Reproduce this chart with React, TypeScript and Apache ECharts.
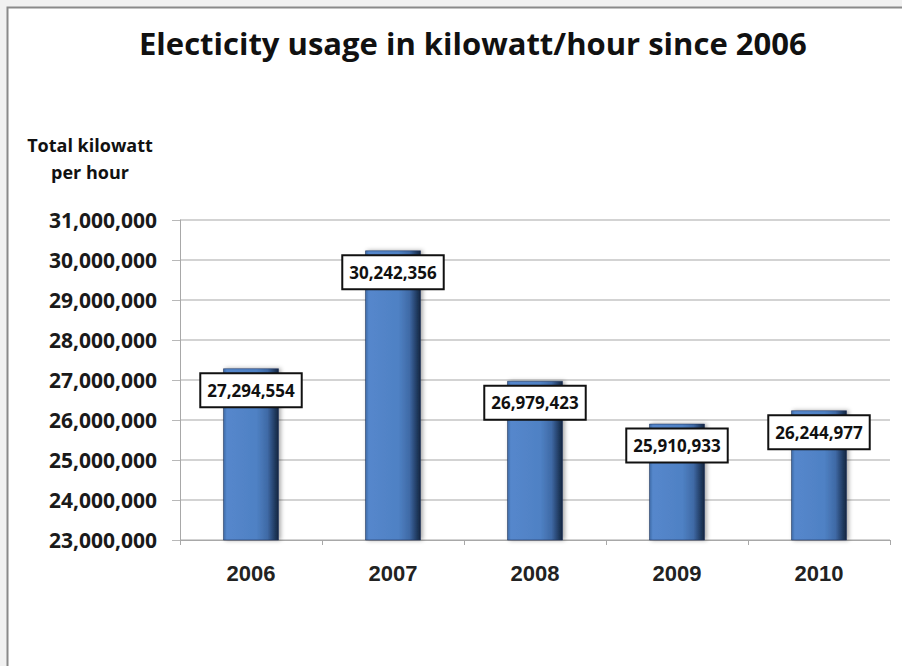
import React, { useEffect, useRef } from "react";
import * as echarts from "echarts";

const years = ["2006", "2007", "2008", "2009", "2010"];
const usage = [27294554, 30242356, 26979423, 25910933, 26244977];
const yMin = 23000000;
const yMax = 31000000;
const yStep = 1000000;

const fmt = (v: number) => v.toLocaleString("en-US");

export default function App() {
  const ref = useRef<HTMLDivElement>(null);

  useEffect(() => {
    if (!ref.current) return;
    const chart = echarts.init(ref.current, undefined, { renderer: "svg" });
    chart.setOption({
      animation: false,
      backgroundColor: "#f1f1f1",
      title: {
        text: "Electicity usage in kilowatt/hour since 2006",
        left: 134,
        top: 22,
        textStyle: {
          fontFamily: "Open Sans",
          fontWeight: "bold",
          fontSize: 31,
          color: "#111",
        },
      },
      graphic: [
        {
          type: "rect",
          z: -10,
          shape: { x: 7.5, y: 7.5, width: 920, height: 700 },
          style: { fill: "#ffffff", stroke: "#8a8a8a", lineWidth: 2 },
          silent: true,
        },
        {
          type: "text",
          x: 90,
          y: 131,
          style: {
            text: "Total kilowatt\nper hour",
            fontFamily: "Open Sans",
            fontWeight: "bold",
            fontSize: 18,
            lineHeight: 27,
            align: "center",
            fill: "#111",
          },
        },
      ],
      grid: { left: 180, right: 12, top: 220, bottom: 126 },
      xAxis: {
        type: "category",
        data: years,
        axisLine: { lineStyle: { color: "#a8a8a8", width: 1 } },
        axisTick: { show: true, length: 5, lineStyle: { color: "#a8a8a8" } },
        axisLabel: {
          margin: 22,
          fontFamily: "Liberation Sans",
          fontWeight: "bold",
          fontSize: 22,
          color: "#222",
        },
      },
      yAxis: {
        type: "value",
        min: yMin,
        max: yMax,
        interval: yStep,
        axisLine: { show: true, lineStyle: { color: "#a8a8a8", width: 1 } },
        axisTick: { show: true, length: 8, lineStyle: { color: "#b8b8b8" } },
        splitLine: { lineStyle: { color: "#c4c4c4", width: 1.5 } },
        axisLabel: {
          margin: 23,
          formatter: (v: number) => fmt(v),
          fontFamily: "Open Sans",
          fontWeight: "bold",
          fontSize: 21,
          color: "#1a1a1a",
        },
      },
      series: [
        {
          type: "bar",
          data: usage,
          barWidth: 56,
          itemStyle: {
            color: new echarts.graphic.LinearGradient(0, 0, 1, 0, [
              { offset: 0, color: "#3e6aa6" },
              { offset: 0.06, color: "#5587cc" },
              { offset: 0.6, color: "#4f81c4" },
              { offset: 0.8, color: "#3f6aa6" },
              { offset: 0.95, color: "#1e3558" },
              { offset: 1, color: "#16263f" },
            ]),
            borderColor: "rgba(30,50,90,0.55)",
            borderWidth: 1,
            shadowColor: "rgba(0,0,0,0.35)",
            shadowBlur: 4,
            shadowOffsetX: 2,
            shadowOffsetY: 0,
          },
          label: {
            show: true,
            position: "insideTop",
            distance: 6,
            formatter: (p: any) => fmt(p.value),
            fontFamily: "Open Sans",
            fontWeight: "bold",
            fontSize: 17,
            lineHeight: 18,
            color: "#111",
            backgroundColor: "#ffffff",
            borderColor: "#111",
            borderWidth: 2,
            padding: [7, 6],
          },
        },
      ],
    });
    return () => chart.dispose();
  }, []);

  return (
    <div
      ref={ref}
      style={{ position: "fixed", left: 0, top: 0, width: 902, height: 666 }}
    />
  );
}
